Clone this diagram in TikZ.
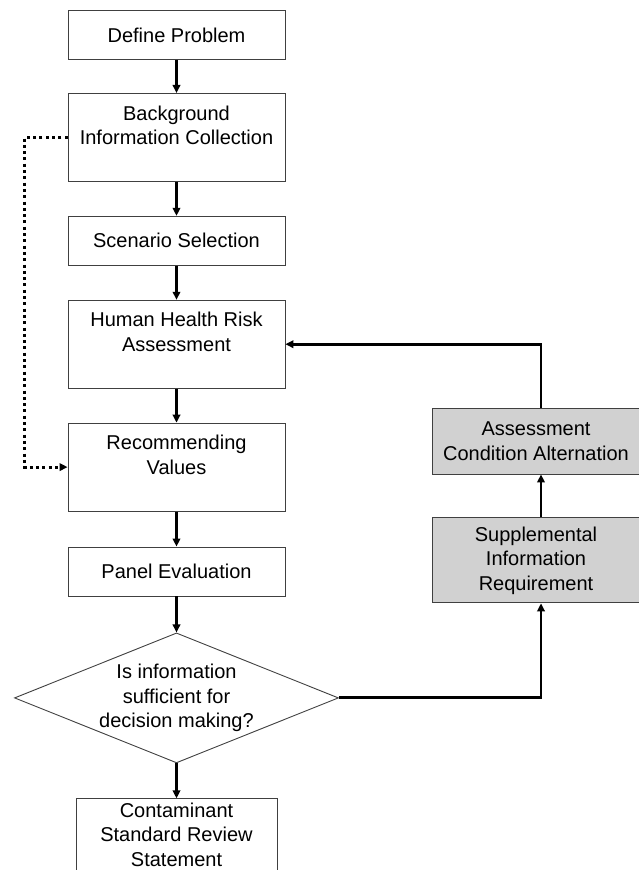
\documentclass[tikz,border=0pt]{standalone}
\usepackage{fontspec}
\setmainfont{Liberation Sans}
\usetikzlibrary{arrows.meta, positioning, shapes.geometric}

\begin{document}
\begin{tikzpicture}[x=1pt, y=-1pt,
    n/.style={draw=black!75, line width=0.9pt, align=center, minimum width=217pt,
              font=\fontsize{20}{24.5}\selectfont, inner sep=2pt},
    tall/.style={n, minimum height=88pt}, short/.style={n, minimum height=49pt},
    grey/.style={n, fill=black!18, minimum width=208pt},
    dec/.style={n, diamond, aspect=2.49, minimum width=324pt, minimum height=130pt, inner sep=-6pt},
    arr/.style={-{Triangle[length=8pt, width=7.5pt]}, line width=2.9pt},
    dots/.style={arr, dash pattern=on 3pt off 3.3pt}]
  \useasboundingbox (0,0) rectangle (639,870);
  % main column
  \node[short] (def) at (176.5,35) {Define Problem};
  \node[tall, below=33pt of def]  (bg)    {Background\\Information Collection\\~};
  \node[short, below=34pt of bg]  (scen)  {Scenario Selection};
  \node[tall, below=34pt of scen] (hhra)  {Human Health Risk\\Assessment\\~};
  \node[tall, below=34pt of hhra] (rec)   {Recommending\\Values\\~};
  \node[short, below=35pt of rec] (panel) {Panel Evaluation};
  \node[dec, below=36pt of panel] (ask)   {Is information\\sufficient for\\decision making?};
  \node[n, minimum width=201pt, inner sep=4pt, below=35pt of ask] (cont)
        {Contaminant\\Standard Review\\Statement};
  % feedback column
  \node[grey, minimum height=66pt] (alt) at (536,441) {Assessment\\Condition Alternation};
  \node[grey, minimum height=85pt, below=43pt of alt] (supp) {Supplemental\\Information\\Requirement};
  \draw[arr] (def) -- (bg); \draw[arr] (bg) -- (scen); \draw[arr] (scen) -- (hhra);
  \draw[arr] (hhra) -- (rec); \draw[arr] (rec) -- (panel); \draw[arr] (panel) -- (ask);
  \draw[arr] (ask) -- (cont);
  \draw[arr] (ask.east) -| ([xshift=5pt]supp.south);
  \draw[arr] ([xshift=5pt]supp.north) -- ([xshift=5pt]alt.south);
  \draw[arr] ([xshift=5pt]alt.north) |- (hhra.east);
  \draw[dots] (bg.west) -- ++(-43,0) |- (rec.west);
\end{tikzpicture}
\end{document}
